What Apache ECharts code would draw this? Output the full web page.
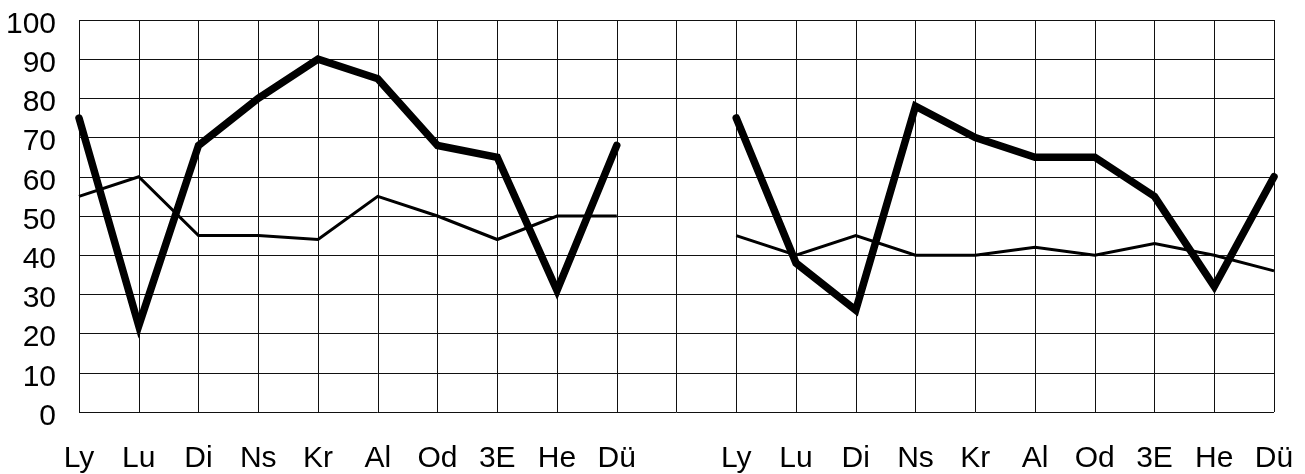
<!DOCTYPE html>
<html>
<head>
<meta charset="utf-8">
<script src="https://cdn.jsdelivr.net/npm/echarts@6/dist/echarts.min.js"></script>
<style>
html,body{margin:0;padding:0;background:#fff;}
#c{width:1305px;height:474px;}
</style>
</head>
<body>
<div id="c"></div>
<script>
var categories = ['Ly','Lu','Di','Ns','Kr','Al','Od','3E','He','Dü'];
var yTicks = [0,10,20,30,40,50,60,70,80,90,100];
var leftThick  = [75, 22, 68, 80, 90, 85, 68, 65, 31, 68];
var leftThin   = [55, 60, 45, 45, 44, 55, 50, 44, 50, 50];
var rightThick = [75, 38, 26, 78, 70, 65, 65, 55, 32, 60];
var rightThin  = [45, 40, 45, 40, 40, 42, 40, 43, 40, 36];

var xCats = categories.concat(['']).concat(categories);
var thickData = leftThick.concat([null]).concat(rightThick);
var thinData = leftThin.concat([null]).concat(rightThin);

var chart = echarts.init(document.getElementById('c'), null, {renderer:'canvas'});
var font = "'Liberation Sans', Arial, sans-serif";
chart.setOption({
  animation:false,
  backgroundColor:'#fff',
  grid:{left:79, right:31, top:20, bottom:59, containLabel:false},
  xAxis:{
    type:'category',
    data:xCats,
    boundaryGap:false,
    axisLine:{show:false},
    axisTick:{show:false},
    axisLabel:{interval:0, margin:32, fontSize:30, color:'#000', fontFamily:font},
    splitLine:{show:true, interval:0, lineStyle:{color:'#111', width:1}}
  },
  yAxis:{
    type:'value',
    min:0, max:100, interval:10,
    axisLine:{show:false},
    axisTick:{show:false},
    axisLabel:{margin:23, fontSize:30, color:'#000', fontFamily:font,
      verticalAlign:'top', lineHeight:9, customValues: yTicks},
    splitLine:{show:true, lineStyle:{color:'#111', width:1}}
  },
  series:[
    {type:'line', data:thinData, showSymbol:false, symbol:'none', connectNulls:false,
     lineStyle:{color:'#000', width:3, cap:'butt', join:'miter'}, z:3},
    {type:'line', data:thickData, showSymbol:false, symbol:'none', connectNulls:false,
     lineStyle:{color:'#000', width:7.5, cap:'round', join:'miter', miterLimit:4}, z:4}
  ]
});
</script>
</body>
</html>
